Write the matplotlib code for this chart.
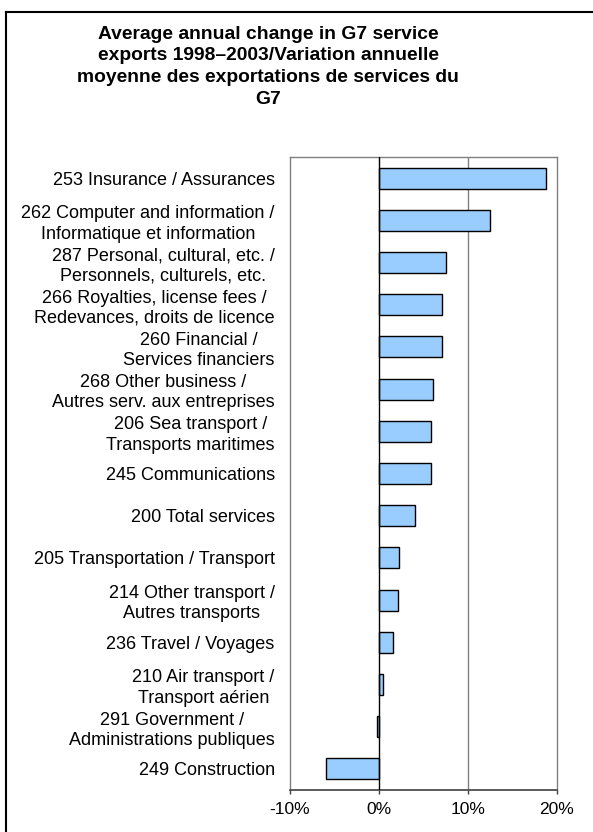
import matplotlib
matplotlib.use("Agg")
import matplotlib.pyplot as plt
from matplotlib.lines import Line2D
from matplotlib.ticker import FuncFormatter

plt.rcParams["font.family"] = ["Liberation Sans", "DejaVu Sans"]

# --- data ---
categories = [
    "253 Insurance / Assurances",
    "262 Computer and information /\nInformatique et information",
    "287 Personal, cultural, etc. /\nPersonnels, culturels, etc.",
    "266 Royalties, license fees /\nRedevances, droits de licence",
    "260 Financial /\nServices financiers",
    "268 Other business /\nAutres serv. aux entreprises",
    "206 Sea transport /\nTransports maritimes",
    "245 Communications",
    "200 Total services",
    "205 Transportation / Transport",
    "214 Other transport /\nAutres transports",
    "236 Travel / Voyages",
    "210 Air transport /\nTransport aérien",
    "291 Government /\nAdministrations publiques",
    "249 Construction",
]
change_pct = [18.8, 12.5, 7.5, 7.1, 7.1, 6.1, 5.8, 5.8, 4.1, 2.3, 2.2, 1.6, 0.45, -0.2, -5.9]
x_ticks = [-10, 0, 10, 20]

title = ("Average annual change in G7 service\n"
         "exports 1998\u20132003/Variation annuelle\n"
         "moyenne des exportations de services du\n"
         "G7")

fig = plt.figure(figsize=(5.93, 8.32), dpi=100)
ax = fig.add_axes([0.489, 0.0505, 0.45, 0.7608])

pos = list(range(len(categories)))
ax.barh(pos, change_pct, height=0.5, color="#99CCFF", edgecolor="black",
        linewidth=1.0, zorder=3)

ax.set_ylim(len(categories) - 0.5, -0.5)
ax.set_xlim(-10, 20)
ax.set_xticks(x_ticks)
ax.xaxis.set_major_formatter(FuncFormatter(lambda v, p: f"{v:.0f}%"))
ax.set_yticks(pos)
ax.set_yticklabels(categories, fontsize=13, multialignment="center",
                   linespacing=1.25)
ax.tick_params(axis="y", length=0, pad=11)
ax.tick_params(axis="x", direction="out", length=3, width=1,
               color="#404040", labelsize=12.5, pad=6)

# gridline + zero axis
ax.axvline(10, color="#808080", linewidth=1, zorder=1)
ax.axvline(0, color="black", linewidth=1, zorder=4)

for side in ["left", "right", "top"]:
    ax.spines[side].set_color("#808080")
    ax.spines[side].set_linewidth(1)
ax.spines["bottom"].set_color("#404040")
ax.spines["bottom"].set_linewidth(1.2)

fig.text(0.452, 0.969, title, ha="center", va="top", fontsize=13.9,
         fontweight="bold", linespacing=1.36)

# outer frame (only left and top visible in the reference)
fig.add_artist(Line2D([0.0095, 0.0095], [0.0, 0.986], transform=fig.transFigure,
                      color="black", linewidth=1.5))
fig.add_artist(Line2D([0.0095, 1.0], [0.986, 0.986], transform=fig.transFigure,
                      color="black", linewidth=1.5))

fig.savefig("out.png", dpi=100)
